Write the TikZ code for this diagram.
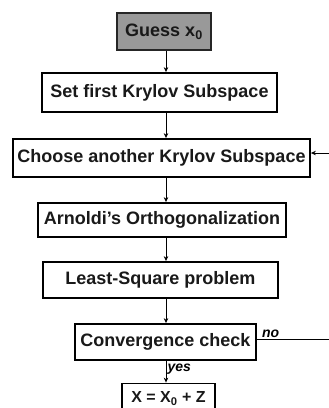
\documentclass[tikz,border=0pt]{standalone}
\usepackage{fontspec}
\setmainfont{Liberation Sans}
\usetikzlibrary{arrows.meta}
\begin{document}
\begin{tikzpicture}[x=1pt,y=-1pt,
  stepbox/.style={draw=black,line width=1.8pt,fill=white,inner sep=0pt,
    font=\bfseries\fontsize{18}{20}\selectfont,text=black!90},
  startbox/.style={stepbox,fill=black!40,draw=black!85},
  flow/.style={line width=1pt,-{Stealth[length=5pt,width=4.5pt]}},
  tag/.style={font=\bfseries\itshape\fontsize{14}{16}\selectfont,inner sep=1pt}]
  \useasboundingbox (0,0) rectangle (329,408);
  \clip (0,0) rectangle (329,408);

  % process steps
  \node[startbox,minimum width=94pt,minimum height=37pt] (guess) at (164,31.5) {Guess x\textsubscript{0}};
  \node[stepbox,minimum width=235pt,minimum height=39pt] (set) at (159.5,92.5) {Set first Krylov Subspace};
  \node[stepbox,minimum width=297pt,minimum height=38pt] (choose) at (161.5,158) {Choose another Krylov Subspace};
  \node[stepbox,minimum width=248pt,minimum height=34pt] (arnoldi) at (162,220) {Arnoldi’s Orthogonalization};
  \node[stepbox,minimum width=235pt,minimum height=36pt] (least) at (160.5,280) {Least-Square problem};
  \node[stepbox,minimum width=181pt,minimum height=36pt] (conv) at (165.5,342) {Convergence check};
  \node[stepbox,minimum width=93pt,minimum height=30pt,
        font=\bfseries\fontsize{16}{18}\selectfont] (result) at (168.5,398.5) {X = X\textsubscript{0} + Z};

  % vertical flow through the steps
  \coordinate (axis) at (166,0);
  \draw[flow] (guess.south -| axis) -- (set.north -| axis);
  \draw[flow] (set.south -| axis) -- (choose.north -| axis);
  \draw[flow] (choose.south -| axis) -- (arnoldi.north -| axis);
  \draw[flow] (arnoldi.south -| axis) -- (least.north -| axis);
  \draw[flow] (least.south -| axis) -- (conv.north -| axis);
  \draw[flow] (conv.south -| axis) -- node[tag,right,pos=0.4] {yes} (result.north -| axis);

  % feedback loop when not converged
  \coordinate (loopx) at (340,0);
  \coordinate (noline) at (0,339);
  \coordinate (inline) at (0,153);
  \draw[flow] (conv.east |- noline) -- (loopx |- noline) -- (loopx |- inline) -- (choose.east |- inline);
  \node[tag,anchor=south west] (notag) at ([xshift=4pt]conv.east |- noline) {no};
\end{tikzpicture}
\end{document}
